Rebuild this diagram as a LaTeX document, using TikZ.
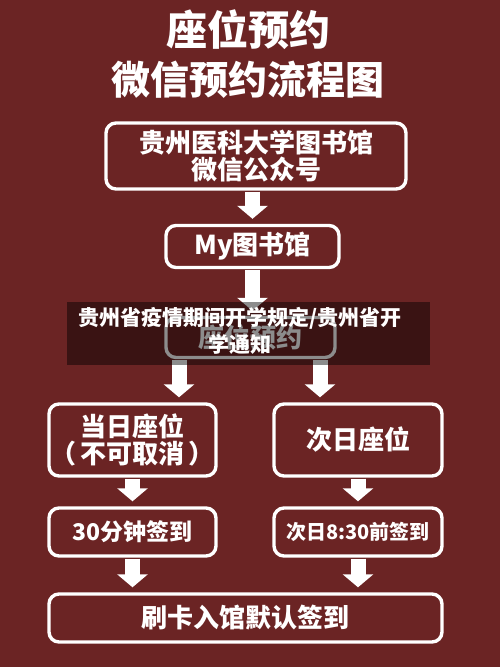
\documentclass[tikz,border=0pt]{standalone}
\usepackage{fontspec}
\setmainfont{Noto Sans CJK SC}
\usetikzlibrary{arrows.meta,calc}
\definecolor{bgred}{RGB}{107,36,36}
\tikzset{
  box/.style={draw=white, line width=3.4pt, rounded corners=10pt, text=white, font=\bfseries\fontsize{26}{31}\selectfont, align=center, inner sep=0pt},
  barrow/.style={draw=white, line width=15pt, -{Triangle[width=30pt,length=13pt]}, shorten <=1pt, shorten >=5pt},
  title/.style={text=white, font=\bfseries\fontsize{41}{46}\selectfont}
}
\begin{document}
\begin{tikzpicture}[x=1pt,y=-1pt]
\fill[bgred] (0,0) rectangle (500,667);
\useasboundingbox (0,0) rectangle (500,667);
\node[title] (t1) at (248,30) {座位预约};
\node[title, font=\bfseries\fontsize{39}{44}\selectfont] (t2) at (248,80) {微信预约流程图};
\node[box, minimum width=300, minimum height=66] (b1) at (256,156) {贵州医科大学图书馆\\[-4pt]微信公众号};
\node[box, minimum width=173, minimum height=42] (b2) at (252.5,246.5) {My图书馆};
\node[box, minimum width=169, minimum height=40] (hid) at (250.5,337.5) {座位预约};
\node[box, minimum width=167, minimum height=72] (lb) at (132.5,440) {当日座位\\[-4pt]（\,不可取消\,）};
\node[box, minimum width=168, minimum height=72] (rb) at (358,440) {次日座位};
\node[box, minimum width=167, minimum height=48, font=\bfseries\fontsize{23}{28}\selectfont] (l2) at (132.5,532) {30分钟签到};
\node[box, minimum width=168, minimum height=48, font=\bfseries\fontsize{20}{24}\selectfont] (r2) at (358,532) {次日8:30前签到};
\node[box, minimum width=393, minimum height=48] (bot) at (245.5,618) {刷卡入馆默认签到};
\draw[barrow] (b1.south -| b2.north) -- (b2.north);
\draw[barrow] (b2.south) -- (b2.south |- hid.north);
\draw[barrow] ([xshift=-71.5pt]hid.south) -- ([xshift=-71.5pt]hid.south |- lb.north);
\draw[barrow] ([xshift=69.5pt]hid.south) -- ([xshift=69.5pt]hid.south |- rb.north);
\draw[barrow] (lb.south) -- (l2.north);
\draw[barrow] (rb.south) -- (r2.north);
\draw[barrow] (l2.south) -- (l2.south |- bot.north);
\draw[barrow] (r2.south) -- (r2.south |- bot.north);
\fill[black, opacity=0.45] (67,302) rectangle (430,365);
\node[text=white, font=\bfseries\fontsize{21}{27}\selectfont, align=center, inner sep=0pt] (ov) at (240,331) {贵州省疫情期间开学规定/贵州省开\\学通知};
\end{tikzpicture}
\end{document}
